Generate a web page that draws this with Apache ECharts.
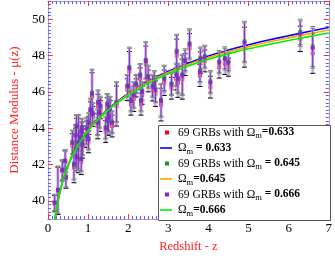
<!DOCTYPE html>
<html><head><meta charset="utf-8">
<script src="https://cdn.jsdelivr.net/npm/echarts@6/dist/echarts.min.js"></script>
<style>html,body{margin:0;padding:0;background:#fff}#c{width:335px;height:258px}</style>
</head><body><div id="c"></div>
<script>
// Redshifts of the 69 GRBs
const zVals = [0.17,0.25,0.36,0.43,0.45,0.61,0.65,0.69,0.70,0.71,0.72,0.76,0.80,0.83,0.84,0.84,0.85,0.86,0.96,0.97,1.01,1.02,1.06,1.10,1.12,1.24,1.25,1.29,1.31,1.44,1.48,1.49,1.51,1.52,1.55,1.60,1.71,1.98,2.03,2.07,2.14,2.20,2.30,2.32,2.35,2.44,2.50,2.61,2.65,2.68,2.82,2.90,3.08,3.20,3.21,3.24,3.35,3.42,3.53,3.79,3.80,3.91,4.05,4.27,4.41,4.50,4.90,6.29,6.60];
// Distance modulus, Omega_m = 0.633 (red)
const muRed = [39.85,40.55,41.65,42.15,41.25,43.05,41.85,43.45,42.75,43.95,42.25,43.05,43.35,42.15,43.15,43.65,43.85,42.95,43.45,43.85,43.25,44.15,44.85,45.75,44.65,44.12,45.22,44.62,45.02,43.82,45.12,44.22,44.42,44.82,44.92,44.12,45.22,46.12,47.12,45.32,45.62,46.22,46.72,45.32,45.82,47.52,46.6,46.1,46.4,45.9,45.3,46.5,46.2,46.7,48.0,46.5,46.7,47.5,48.4,46.9,47.6,47.7,46.26,47.36,47.56,47.36,48.46,48.92,48.12];
// Distance modulus, Omega_m = 0.645 (green)
const muGreen = [39.92,40.62,41.72,42.22,41.32,43.25,42.05,43.65,42.95,44.15,42.45,43.25,43.55,42.35,43.35,43.85,44.05,43.15,43.65,44.05,43.45,44.35,45.05,45.95,44.85,44.36,45.46,44.86,45.26,44.06,45.36,44.46,44.66,45.06,45.16,44.36,45.46,46.36,47.36,45.56,45.86,46.46,46.96,45.56,46.06,47.76,46.87,46.37,46.67,46.17,45.57,46.77,46.47,46.97,48.27,46.77,46.97,47.77,48.67,47.17,47.87,47.97,46.58,47.68,47.88,47.68,48.78,49.3,48.5];
// Distance modulus, Omega_m = 0.666 (purple)
const muPurple = [39.9,40.6,41.7,42.2,41.3,43.2,42.0,43.6,42.9,44.1,42.4,43.2,43.5,42.3,43.3,43.8,44.0,43.1,43.6,44.0,43.4,44.3,45.0,45.9,44.8,44.3,45.4,44.8,45.2,44.0,45.3,44.4,44.6,45.0,45.1,44.3,45.4,46.3,47.3,45.5,45.8,46.4,46.9,45.5,46.0,47.7,46.8,46.3,46.6,46.1,45.5,46.7,46.4,46.9,48.2,46.7,46.9,47.7,48.6,47.1,47.8,47.9,46.5,47.6,47.8,47.6,48.7,49.2,48.4];
// 1-sigma errors
const muErr = [0.45,1.30,0.55,0.60,0.55,0.65,0.85,0.55,0.90,0.60,0.60,1.50,0.50,0.70,0.60,0.50,0.50,0.60,0.50,0.55,0.60,0.50,0.60,1.30,0.55,0.70,0.65,0.80,0.50,0.60,0.55,0.60,0.80,0.60,0.60,0.60,1.10,0.60,1.10,0.60,0.70,0.50,0.60,0.60,0.50,1.00,0.60,0.60,0.50,0.70,0.90,0.70,0.60,0.60,0.90,0.80,1.10,0.60,0.80,0.60,0.60,0.60,0.60,0.60,0.60,0.50,1.10,0.70,1.10];
// Model curves
const curveZ   = [0.12,0.16,0.2,0.25,0.3,0.35,0.4,0.5,0.6,0.7,0.8,0.9,1.0,1.25,1.5,1.75,2.0,2.5,3.0,3.5,4.0,4.5,5.0,5.5,6.0,6.5,7.0];
const curve633 = [37.9,38.7,39.35,39.99,40.5,40.94,41.31,41.94,42.46,42.9,43.27,43.6,43.9,44.54,45.07,45.51,45.9,46.58,47.13,47.58,47.97,48.3,48.59,48.85,49.09,49.32,49.54];
const curve645 = [37.9,38.7,39.35,39.99,40.5,40.94,41.31,41.94,42.46,42.89,43.26,43.59,43.88,44.51,45.04,45.47,45.86,46.53,47.07,47.51,47.89,48.21,48.49,48.74,48.97,49.19,49.40];
const curve666 = [37.9,38.7,39.35,39.99,40.49,40.93,41.3,41.92,42.44,42.87,43.23,43.56,43.86,44.48,45.0,45.43,45.81,46.47,47.0,47.42,47.79,48.1,48.37,48.61,48.83,49.04,49.24];
const xTicks = [0,1,2,3,4,5,6,7];
const yTicks = [40,42,44,46,48,50];

const SERIF = "'Liberation Serif','Times New Roman',serif";
const chart = echarts.init(document.getElementById('c'), null, {renderer:'canvas'});

function pts(ys){ return zVals.map((z,i)=>[z, ys[i]]); }
function errData(ys){ return zVals.map((z,i)=>[z, ys[i]-muErr[i], ys[i]+muErr[i]]); }
function errSeries(ys, lineColor, lineW, capColor, z){
  return {type:'custom', xAxisIndex:0, yAxisIndex:1, z:z, silent:true,
    data: errData(ys),
    renderItem: function(params, api){
      const lo = api.coord([api.value(0), api.value(1)]);
      const hi = api.coord([api.value(0), api.value(2)]);
      const w = 2.5;
      return {type:'group', children:[
        {type:'line', shape:{x1:lo[0],y1:lo[1],x2:hi[0],y2:hi[1]}, style:{stroke:lineColor, lineWidth:lineW}},
        {type:'line', shape:{x1:lo[0]-w,y1:lo[1],x2:lo[0]+w,y2:lo[1]}, style:{stroke:capColor, lineWidth:1}},
        {type:'line', shape:{x1:hi[0]-w,y1:hi[1],x2:hi[0]+w,y2:hi[1]}, style:{stroke:capColor, lineWidth:1}}
      ]};
    }};
}
function line(ys, color, z){
  return {type:'line', xAxisIndex:0, yAxisIndex:1, z:z, data: curveZ.map((x,i)=>[x, ys[i]]),
    showSymbol:false, smooth:0.3, lineStyle:{color:color, width:1.6}, clip:true};
}
function scatter(ys, color, z){
  return {type:'scatter', xAxisIndex:0, yAxisIndex:1, z:z, data: pts(ys), symbol:'rect', symbolSize:4,
    itemStyle:{color:color}};
}

const RED_T = '#ff2a2a', BLUE_T = '#5a5aff';
function xAx(pos, labels){
  return {type:'value', position:pos, min:0, max:7, interval:1, gridIndex:0,
    axisLine:{show:true, lineStyle:{color:'#a0a0d8', width:1}},
    axisTick:{show:true, inside:true, length:5, lineStyle:{color:RED_T, width:1}},
    minorTick:{show:true, splitNumber:10, length:3, lineStyle:{color:BLUE_T, width:1}},
    splitLine:{show:false},
    axisLabel:{show:labels, color:'#000', fontFamily:SERIF, fontSize:13, margin:3,
      formatter: v => xTicks.indexOf(v) >= 0 ? String(v) : ''},
    name: labels ? 'Redshift - z' : '', nameLocation:'middle', nameGap:18,
    nameTextStyle:{color:'#ff2020', fontFamily:SERIF, fontSize:12.5}};
}
function yMinor(pos){
  return {type:'value', position:pos, min:39, max:51, interval:0.2,
    axisLine:{show:true, lineStyle:{color:'#a0a0d8', width:1}},
    axisTick:{show:true, inside:true, length:3, lineStyle:{color:BLUE_T, width:1}},
    axisLabel:{show:false}, splitLine:{show:false}};
}
function yMajor(pos, labels){
  return {type:'value', position:pos, min:39, max:51, splitNumber:6,
    axisLine:{show:false},
    axisTick:{show:true, inside:true, length:5, lineStyle:{color:RED_T, width:1}},
    axisLabel:{show:labels, showMinLabel:false, showMaxLabel:false, color:'#000', fontFamily:SERIF, fontSize:13, margin:3,
      formatter: v => yTicks.indexOf(v) >= 0 ? String(v) : ''},
    splitLine:{show:false},
    name: labels ? 'Distance Modulus - μ(z)' : '', nameLocation:'middle', nameGap:17, nameRotate:90,
    nameTextStyle:{color:'#ff2020', fontFamily:SERIF, fontSize:13}};
}

// legend (graphic)
const legItems = [
  {kind:'pt', color:'#ff0000', text:'69 GRBs with Ω{s|m}{b|=0.633}'},
  {kind:'ln', color:'#0000ff', text:'Ω{s|m}{b| = 0.633}'},
  {kind:'pt', color:'#1a9a1a', text:'69 GRBs with Ω{s|m}{b| = 0.645}'},
  {kind:'ln', color:'#ffa500', text:'Ω{s|m}{b|=0.645}'},
  {kind:'pt', color:'#8a1ee0', text:'69 GRBs with Ω{s|m}{b| = 0.666}'},
  {kind:'ln', color:'#00ee00', text:'Ω{s|m}{b|=0.666}'}
];
const g = [{type:'rect', z:100, shape:{x:158.5, y:125.5, width:172, height:95}, style:{fill:'#fff', stroke:'#555', lineWidth:1}}];
legItems.forEach((it,i)=>{
  const y = 132.5 + 15.5*i;
  if (it.kind === 'pt') {
    g.push({type:'rect', z:101, shape:{x:165, y:y-2, width:4, height:4}, style:{fill:it.color}});
  } else {
    g.push({type:'line', z:101, shape:{x1:160, y1:y, x2:172, y2:y}, style:{stroke:it.color, lineWidth:1.6}});
  }
  g.push({type:'text', z:101, x:178, y:y, style:{text:it.text, fill:'#000', font:'11.5px '+SERIF, verticalAlign:'middle', align:'left',
    rich:{ s:{fontSize:8.5, fontFamily:SERIF, padding:[7,0,0,0]}, b:{fontSize:11.5, fontWeight:'bold', fontFamily:SERIF} } }});
});

chart.setOption({
  animation:false,
  backgroundColor:'#fff',
  grid:{left:28, top:1, width:302, height:234, containLabel:false},
  xAxis:[xAx('bottom', true), xAx('top', false)],
  yAxis:[yMinor('left'), yMajor('left', true), yMinor('right'), yMajor('right', false)],
  series:[
    errSeries(muRed, '#c9a6e6', 2.5, '#000000', 1),
    scatter(muRed, '#ff0000', 2),
    line(curve633, '#0000ff', 3),
    errSeries(muGreen, '#c9a6e6', 2.5, '#5aa05a', 4),
    scatter(muGreen, '#1a9a1a', 5),
    line(curve645, '#ffa500', 6),
    errSeries(muPurple, '#7d2fb8', 1, '#8a8a8a', 7),
    scatter(muPurple, '#8a1ee0', 8),
    line(curve666, '#00ee00', 9)
  ],
  graphic: g
});
</script></body></html>
